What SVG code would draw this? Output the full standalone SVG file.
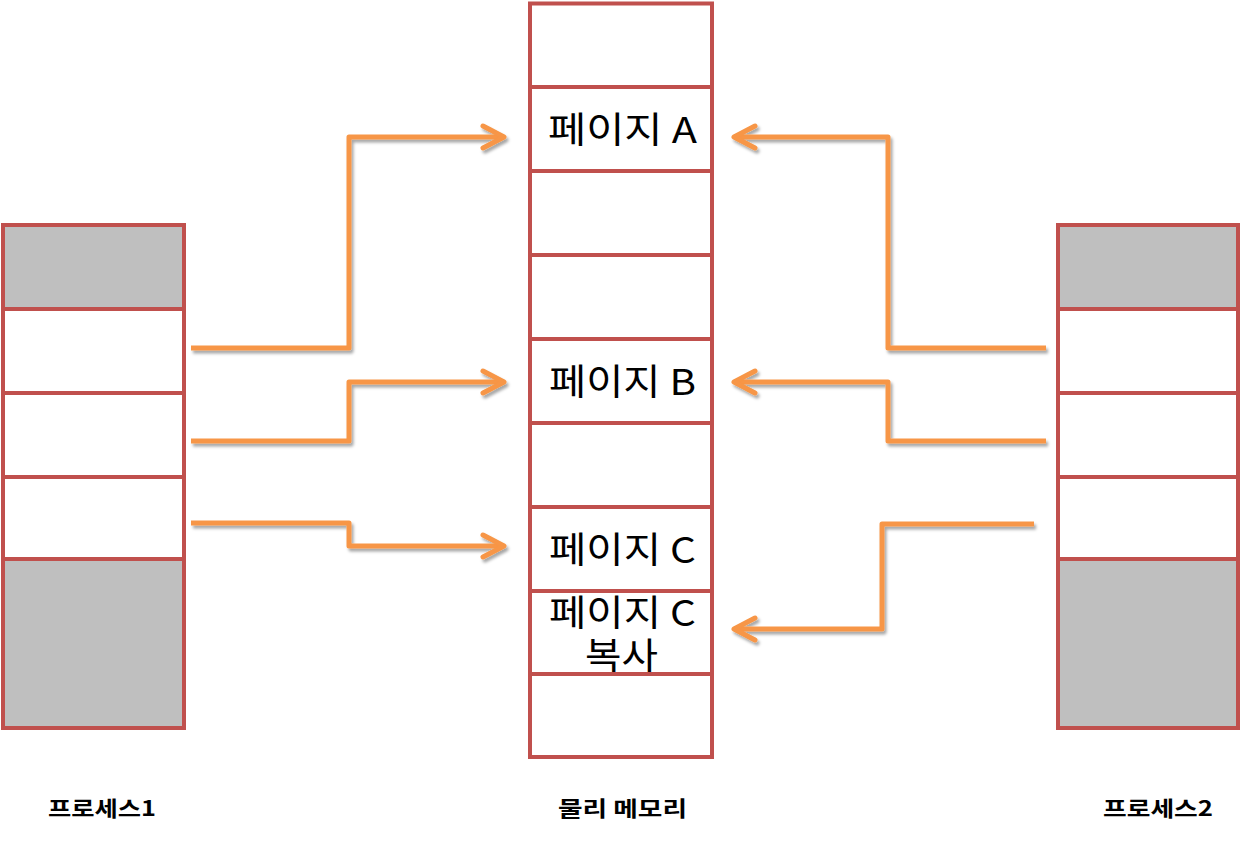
<svg xmlns="http://www.w3.org/2000/svg" width="1247" height="842" viewBox="0 0 1247 842">
<style>
.cell{fill:#FFFFFF;stroke:#C0504D;stroke-width:4;}
.gray{fill:#BFBFBF;}
.conn{fill:none;stroke:#F79646;stroke-width:5;stroke-linejoin:round;stroke-linecap:butt;}
.pg{font-family:"Noto Sans CJK KR","Noto Sans",sans-serif;font-size:36px;fill:#000;}
.lbl{font-family:"Noto Sans CJK KR","Noto Sans",sans-serif;font-size:21px;font-weight:bold;fill:#000;}
</style>
<defs>
<filter id="sh" x="-10%" y="-10%" width="130%" height="130%">
<feDropShadow dx="2" dy="3" stdDeviation="1.5" flood-color="#000" flood-opacity="0.35"/>
</filter>
<marker id="ah" markerUnits="userSpaceOnUse" viewBox="-28 -16 32 32" markerWidth="32" markerHeight="32" refX="0" refY="0" orient="auto">
<path d="M-21,-11 L0,0 L-21,11" fill="none" stroke="#F79646" stroke-width="5" stroke-linecap="round" stroke-linejoin="round"/>
</marker>
</defs>
<rect width="1247" height="842" fill="#FFFFFF"/>

<g id="process1">
<rect class="cell gray" x="3" y="225" width="181" height="84"/>
<rect class="cell" x="3" y="309" width="181" height="84"/>
<rect class="cell" x="3" y="393" width="181" height="84"/>
<rect class="cell" x="3" y="477" width="181" height="82"/>
<rect class="cell gray" x="3" y="559" width="181" height="169"/>
</g>

<g id="process2">
<rect class="cell gray" x="1058" y="225" width="180" height="84"/>
<rect class="cell" x="1058" y="309" width="180" height="84"/>
<rect class="cell" x="1058" y="393" width="180" height="84"/>
<rect class="cell" x="1058" y="477" width="180" height="82"/>
<rect class="cell gray" x="1058" y="559" width="180" height="169"/>
</g>

<g id="memory">
<rect class="cell" x="530" y="3.5" width="182" height="83.5"/>
<g id="pageA"><rect class="cell" x="530" y="87" width="182" height="84"/><text class="pg" x="548" y="143" textLength="149" lengthAdjust="spacingAndGlyphs">페이지 A</text></g>
<rect class="cell" x="530" y="171" width="182" height="84"/>
<rect class="cell" x="530" y="255" width="182" height="84"/>
<g id="pageB"><rect class="cell" x="530" y="339" width="182" height="84"/><text class="pg" x="549" y="395" textLength="147" lengthAdjust="spacingAndGlyphs">페이지 B</text></g>
<rect class="cell" x="530" y="423" width="182" height="84"/>
<g id="pageC"><rect class="cell" x="530" y="507" width="182" height="84"/><text class="pg" x="549" y="563" textLength="147" lengthAdjust="spacingAndGlyphs">페이지 C</text></g>
<g id="pageCcopy"><rect class="cell" x="530" y="591" width="182" height="83"/><text class="pg"><tspan x="549" y="626" textLength="147" lengthAdjust="spacingAndGlyphs">페이지 C</tspan><tspan x="585" y="669" textLength="73" lengthAdjust="spacingAndGlyphs">복사</tspan></text></g>
<rect class="cell" x="530" y="674" width="182" height="83"/>
</g>

<g id="connectors" filter="url(#sh)">
<polyline class="conn" points="191,348 349,348 349,137 504,137" marker-end="url(#ah)"/>
<polyline class="conn" points="191,441 349,441 349,382 504,382" marker-end="url(#ah)"/>
<polyline class="conn" points="191,523 349,523 349,546 504,546" marker-end="url(#ah)"/>
<polyline class="conn" points="1046,348 888,348 888,137 734,137" marker-end="url(#ah)"/>
<polyline class="conn" points="1046,441 888,441 888,382 734,382" marker-end="url(#ah)"/>
<polyline class="conn" points="1034,524 882,524 882,629 734,629" marker-end="url(#ah)"/>
</g>

<g id="labels">
<text class="lbl" x="48" y="816" textLength="108" lengthAdjust="spacingAndGlyphs">프로세스1</text>
<text class="lbl" x="558" y="816" textLength="129" lengthAdjust="spacingAndGlyphs">물리 메모리</text>
<text class="lbl" x="1103" y="816" textLength="110" lengthAdjust="spacingAndGlyphs">프로세스2</text>
</g>
</svg>
